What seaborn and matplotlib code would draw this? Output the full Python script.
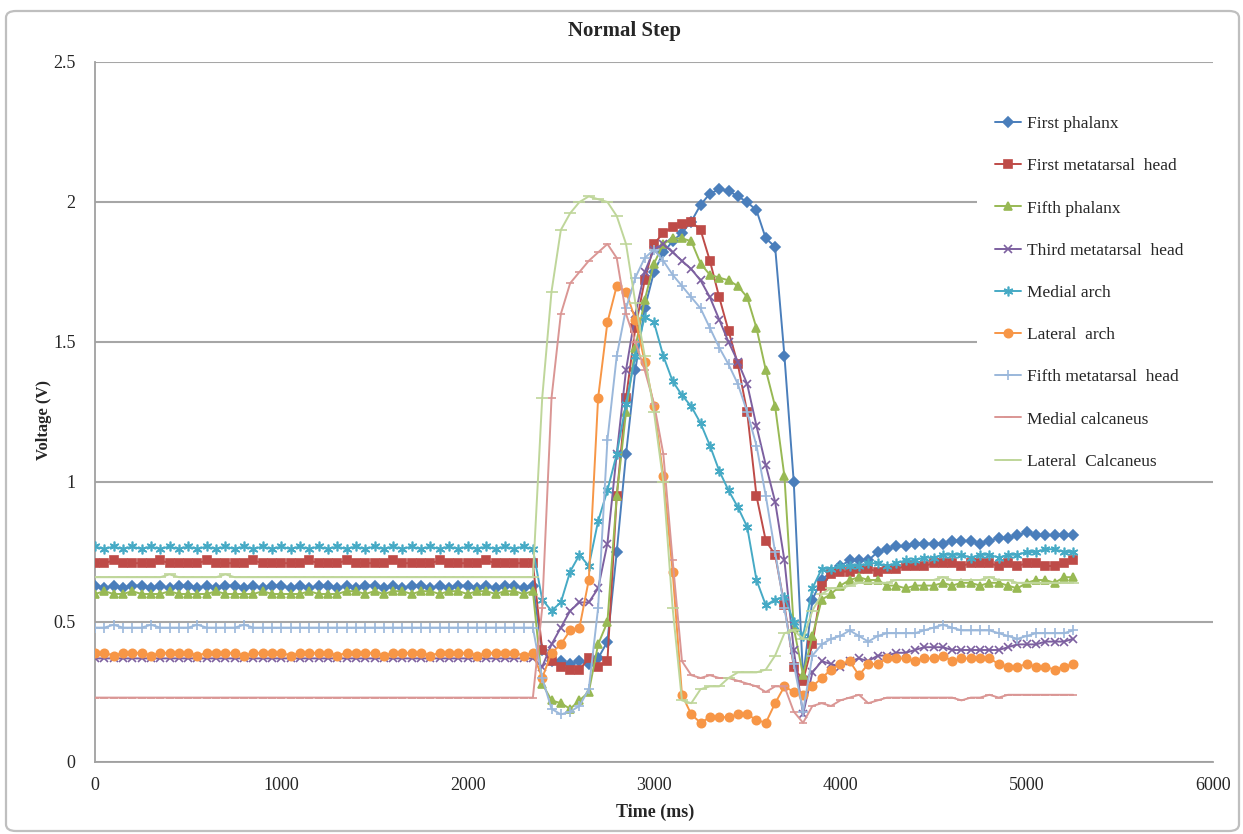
import matplotlib
matplotlib.use("Agg")
import matplotlib.pyplot as plt
import seaborn as sns
from matplotlib.patches import FancyBboxPatch, Rectangle

# ---------------- data ----------------
time_ms = list(range(0, 5300, 50))  # sample times, 0 .. 5250 ms

first_phalanx = [
    0.63, 0.62, 0.63, 0.62, 0.63, 0.63, 0.62, 0.63,
    0.62, 0.63, 0.63, 0.62, 0.63, 0.62, 0.63, 0.63,
    0.62, 0.63, 0.62, 0.63, 0.63, 0.62, 0.63, 0.62,
    0.63, 0.63, 0.62, 0.63, 0.62, 0.63, 0.63, 0.62,
    0.63, 0.62, 0.63, 0.63, 0.62, 0.63, 0.62, 0.63,
    0.63, 0.62, 0.63, 0.62, 0.63, 0.63, 0.62, 0.63,
    0.40, 0.36, 0.36, 0.35, 0.36, 0.35, 0.37, 0.43, 0.75, 1.10,
    1.40, 1.62, 1.75, 1.82, 1.86, 1.89, 1.93, 1.99, 2.03, 2.045,
    2.04, 2.02, 2.00, 1.97, 1.87, 1.84, 1.45, 1.00, 0.30, 0.58,
    0.65, 0.68, 0.70, 0.72, 0.72, 0.72, 0.75, 0.76, 0.77, 0.77,
    0.78, 0.78, 0.78, 0.78, 0.79, 0.79, 0.79, 0.78, 0.79, 0.80,
    0.80, 0.81, 0.82, 0.81, 0.81, 0.81, 0.81, 0.81,
]

first_metatarsal_head = [
    0.71, 0.71, 0.72, 0.71, 0.71, 0.71, 0.71, 0.72,
    0.71, 0.71, 0.71, 0.71, 0.72, 0.71, 0.71, 0.71,
    0.71, 0.72, 0.71, 0.71, 0.71, 0.71, 0.71, 0.72,
    0.71, 0.71, 0.71, 0.72, 0.71, 0.71, 0.71, 0.71,
    0.72, 0.71, 0.71, 0.71, 0.71, 0.72, 0.71, 0.71,
    0.71, 0.71, 0.72, 0.71, 0.71, 0.71, 0.71, 0.71,
    0.40, 0.36, 0.34, 0.33, 0.33, 0.37, 0.34, 0.36, 0.95, 1.30,
    1.55, 1.72, 1.85, 1.89, 1.91, 1.92, 1.93, 1.90, 1.79, 1.66,
    1.54, 1.42, 1.25, 0.95, 0.79, 0.74, 0.56, 0.34, 0.29, 0.42,
    0.63, 0.67, 0.68, 0.68, 0.69, 0.69, 0.68, 0.69, 0.69, 0.70,
    0.70, 0.70, 0.71, 0.71, 0.71, 0.70, 0.71, 0.71, 0.71, 0.70,
    0.71, 0.70, 0.71, 0.71, 0.70, 0.70, 0.71, 0.72,
]

fifth_phalanx = [
    0.60, 0.61, 0.60, 0.60, 0.61, 0.60, 0.60, 0.60,
    0.61, 0.60, 0.60, 0.60, 0.60, 0.61, 0.60, 0.60,
    0.60, 0.60, 0.61, 0.60, 0.60, 0.60, 0.60, 0.61,
    0.60, 0.60, 0.60, 0.61, 0.61, 0.60, 0.61, 0.60,
    0.61, 0.61, 0.60, 0.61, 0.61, 0.60, 0.61, 0.61,
    0.60, 0.61, 0.61, 0.60, 0.61, 0.61, 0.60, 0.61,
    0.28, 0.22, 0.21, 0.19, 0.22, 0.25, 0.42, 0.50, 0.95, 1.25,
    1.48, 1.65, 1.78, 1.85, 1.87, 1.87, 1.86, 1.78, 1.74, 1.73,
    1.72, 1.70, 1.66, 1.55, 1.40, 1.27, 1.02, 0.48, 0.31, 0.45,
    0.58, 0.60, 0.63, 0.65, 0.66, 0.65, 0.65, 0.63, 0.63, 0.62,
    0.63, 0.63, 0.63, 0.64, 0.63, 0.64, 0.64, 0.63, 0.64, 0.64,
    0.63, 0.62, 0.64, 0.65, 0.65, 0.64, 0.66, 0.66,
]

third_metatarsal_head = [
    0.37, 0.37, 0.37, 0.37, 0.37, 0.37, 0.37, 0.37,
    0.37, 0.37, 0.37, 0.37, 0.37, 0.37, 0.37, 0.37,
    0.37, 0.37, 0.37, 0.37, 0.37, 0.37, 0.37, 0.37,
    0.37, 0.37, 0.37, 0.37, 0.37, 0.37, 0.37, 0.37,
    0.37, 0.37, 0.37, 0.37, 0.37, 0.37, 0.37, 0.37,
    0.37, 0.37, 0.37, 0.37, 0.37, 0.37, 0.37, 0.37,
    0.34, 0.42, 0.48, 0.54, 0.57, 0.57, 0.62, 0.78, 1.10, 1.40,
    1.60, 1.75, 1.83, 1.85, 1.82, 1.79, 1.76, 1.72, 1.66, 1.58,
    1.50, 1.43, 1.35, 1.20, 1.06, 0.93, 0.72, 0.40, 0.17, 0.32,
    0.36, 0.35, 0.34, 0.36, 0.37, 0.36, 0.38, 0.38, 0.39, 0.39,
    0.40, 0.41, 0.41, 0.41, 0.40, 0.40, 0.40, 0.40, 0.40, 0.40,
    0.41, 0.42, 0.42, 0.42, 0.43, 0.43, 0.43, 0.44,
]

medial_arch = [
    0.77, 0.76, 0.77, 0.76, 0.77, 0.76, 0.77, 0.76,
    0.77, 0.76, 0.77, 0.76, 0.77, 0.76, 0.77, 0.76,
    0.77, 0.76, 0.77, 0.76, 0.77, 0.76, 0.77, 0.76,
    0.77, 0.76, 0.77, 0.76, 0.77, 0.76, 0.77, 0.76,
    0.77, 0.76, 0.77, 0.76, 0.77, 0.76, 0.77, 0.76,
    0.77, 0.76, 0.77, 0.76, 0.77, 0.76, 0.77, 0.76,
    0.58, 0.54, 0.57, 0.68, 0.74, 0.70, 0.86, 0.97, 1.10, 1.28,
    1.45, 1.59, 1.57, 1.45, 1.36, 1.31, 1.27, 1.21, 1.13, 1.04,
    0.97, 0.91, 0.84, 0.65, 0.56, 0.58, 0.59, 0.50, 0.45, 0.62,
    0.69, 0.69, 0.70, 0.70, 0.70, 0.71, 0.71, 0.70, 0.71, 0.72,
    0.72, 0.73, 0.73, 0.74, 0.74, 0.74, 0.73, 0.74, 0.74, 0.73,
    0.74, 0.74, 0.75, 0.75, 0.76, 0.76, 0.75, 0.75,
]

lateral_arch = [
    0.39, 0.39, 0.38, 0.39, 0.39, 0.39, 0.38, 0.39,
    0.39, 0.39, 0.39, 0.38, 0.39, 0.39, 0.39, 0.39,
    0.38, 0.39, 0.39, 0.39, 0.39, 0.38, 0.39, 0.39,
    0.39, 0.39, 0.38, 0.39, 0.39, 0.39, 0.39, 0.38,
    0.39, 0.39, 0.39, 0.39, 0.38, 0.39, 0.39, 0.39,
    0.39, 0.38, 0.39, 0.39, 0.39, 0.39, 0.38, 0.39,
    0.30, 0.39, 0.42, 0.47, 0.48, 0.65, 1.30, 1.57, 1.70, 1.68,
    1.58, 1.43, 1.27, 1.02, 0.68, 0.24, 0.17, 0.14, 0.16, 0.16,
    0.16, 0.17, 0.17, 0.15, 0.14, 0.21, 0.27, 0.25, 0.24, 0.27,
    0.30, 0.33, 0.35, 0.36, 0.31, 0.35, 0.35, 0.37, 0.37, 0.37,
    0.36, 0.37, 0.37, 0.38, 0.36, 0.37, 0.37, 0.37, 0.37, 0.35,
    0.34, 0.34, 0.35, 0.34, 0.34, 0.33, 0.34, 0.35,
]

fifth_metatarsal_head = [
    0.48, 0.48, 0.49, 0.48, 0.48, 0.48, 0.49, 0.48,
    0.48, 0.48, 0.48, 0.49, 0.48, 0.48, 0.48, 0.48,
    0.49, 0.48, 0.48, 0.48, 0.48, 0.48, 0.48, 0.48,
    0.48, 0.48, 0.48, 0.48, 0.48, 0.48, 0.48, 0.48,
    0.48, 0.48, 0.48, 0.48, 0.48, 0.48, 0.48, 0.48,
    0.48, 0.48, 0.48, 0.48, 0.48, 0.48, 0.48, 0.48,
    0.30, 0.19, 0.17, 0.18, 0.20, 0.26, 0.55, 1.15, 1.45, 1.62,
    1.73, 1.80, 1.83, 1.79, 1.74, 1.70, 1.66, 1.62, 1.55, 1.48,
    1.42, 1.35, 1.25, 1.13, 0.95, 0.75, 0.55, 0.35, 0.18, 0.38,
    0.42, 0.44, 0.45, 0.47, 0.45, 0.43, 0.45, 0.46, 0.46, 0.46,
    0.46, 0.47, 0.48, 0.49, 0.48, 0.47, 0.47, 0.47, 0.47, 0.46,
    0.45, 0.44, 0.45, 0.46, 0.46, 0.46, 0.46, 0.47,
]

medial_calcaneus = [
    0.23, 0.23, 0.23, 0.23, 0.23, 0.23, 0.23, 0.23,
    0.23, 0.23, 0.23, 0.23, 0.23, 0.23, 0.23, 0.23,
    0.23, 0.23, 0.23, 0.23, 0.23, 0.23, 0.23, 0.23,
    0.23, 0.23, 0.23, 0.23, 0.23, 0.23, 0.23, 0.23,
    0.23, 0.23, 0.23, 0.23, 0.23, 0.23, 0.23, 0.23,
    0.23, 0.23, 0.23, 0.23, 0.23, 0.23, 0.23, 0.23,
    0.55, 1.30, 1.60, 1.71, 1.75, 1.79, 1.82, 1.85, 1.80, 1.60,
    1.50, 1.40, 1.28, 1.10, 0.72, 0.36, 0.31, 0.30, 0.31, 0.30,
    0.30, 0.29, 0.28, 0.27, 0.25, 0.27, 0.27, 0.18, 0.14, 0.20,
    0.21, 0.20, 0.22, 0.23, 0.24, 0.21, 0.22, 0.23, 0.23, 0.23,
    0.23, 0.23, 0.23, 0.23, 0.23, 0.22, 0.23, 0.23, 0.24, 0.23,
    0.24, 0.24, 0.24, 0.24, 0.24, 0.24, 0.24, 0.24,
]

lateral_calcaneus = [
    0.66, 0.66, 0.66, 0.66, 0.66, 0.66, 0.66, 0.66,
    0.67, 0.66, 0.66, 0.66, 0.66, 0.66, 0.67, 0.66,
    0.66, 0.66, 0.66, 0.66, 0.66, 0.66, 0.66, 0.66,
    0.66, 0.66, 0.66, 0.66, 0.66, 0.66, 0.66, 0.66,
    0.66, 0.66, 0.66, 0.66, 0.66, 0.66, 0.66, 0.66,
    0.66, 0.66, 0.66, 0.66, 0.66, 0.66, 0.66, 0.66,
    1.30, 1.68, 1.90, 1.96, 2.00, 2.02, 2.01, 2.00, 1.95, 1.85,
    1.64, 1.45, 1.25, 1.00, 0.55, 0.22, 0.21, 0.26, 0.27, 0.27,
    0.30, 0.32, 0.32, 0.32, 0.33, 0.38, 0.46, 0.47, 0.44, 0.54,
    0.60, 0.62, 0.62, 0.63, 0.64, 0.64, 0.64, 0.64, 0.65, 0.65,
    0.65, 0.65, 0.65, 0.66, 0.65, 0.65, 0.65, 0.65, 0.66, 0.65,
    0.65, 0.64, 0.64, 0.64, 0.64, 0.64, 0.64, 0.64,
]

series_names = [
    "First phalanx", "First metatarsal  head", "Fifth phalanx",
    "Third metatarsal  head", "Medial arch", "Lateral  arch",
    "Fifth metatarsal  head", "Medial calcaneus", "Lateral  Calcaneus",
]
series_values = [
    first_phalanx, first_metatarsal_head, fifth_phalanx,
    third_metatarsal_head, medial_arch, lateral_arch,
    fifth_metatarsal_head, medial_calcaneus, lateral_calcaneus,
]
x_ticks = [0, 1000, 2000, 3000, 4000, 5000, 6000]
y_ticks = [0, 0.5, 1, 1.5, 2, 2.5]

# ---------------- styles ----------------
colors = ["#4A7EBB", "#BE4B48", "#98B954", "#7D60A0", "#46AAC5",
          "#F79646", "#9BB8DB", "#DA9694", "#BFD69A"]
markers = ["D", "s", "^", "x", (6, 2, 0), "o", "+", "_", "_"]
msizes = [5, 6, 6, 6, 7, 6, 7, 6, 8]

sns.set_theme(style="white")
plt.rcParams["font.family"] = ["Liberation Serif", "DejaVu Serif"]

fig = plt.figure(figsize=(12.43, 8.34), dpi=100)
ax = fig.add_axes([95 / 1243, 72 / 834, 1118 / 1243, 700 / 834])
ax.set_axisbelow(True)

for name, vals, c, m, ms in zip(series_names, series_values, colors, markers, msizes):
    sns.lineplot(x=time_ms, y=vals, ax=ax, color=c, marker=m, markersize=ms,
                 markeredgecolor=c, markerfacecolor=c, markeredgewidth=1.2,
                 linewidth=1.4, label=name, zorder=3)

ax.set_xlim(0, 6000)
ax.set_ylim(0, 2.5)
ax.set_xticks(x_ticks)
ax.set_yticks(y_ticks)
ax.set_xticklabels([str(v) for v in x_ticks], fontsize=13)
ax.set_yticklabels(["0", "0.5", "1", "1.5", "2", "2.5"], fontsize=13)
ax.tick_params(axis="x", length=0, pad=11)
ax.tick_params(axis="y", length=0, pad=14)
ax.set_xlabel("")
ax.set_ylabel("")

ax.yaxis.grid(True, color="#A6A6A6", linewidth=1.5)
ax.xaxis.grid(False)
for side in ["left", "bottom"]:
    ax.spines[side].set_visible(True)
    ax.spines[side].set_color("#A0A0A0")
    ax.spines[side].set_linewidth(1.3)
for side in ["top", "right"]:
    ax.spines[side].set_visible(False)

# white legend area covering gridlines (as in the reference)
ax.add_patch(Rectangle((0.789, 0.41), 0.211, 0.54, transform=ax.transAxes,
                       facecolor="white", edgecolor="none", zorder=1, clip_on=False))

leg = ax.legend(loc="upper left", bbox_to_anchor=(995 / 1243, 1 - 116 / 834),
                bbox_transform=fig.transFigure, frameon=False, fontsize=12.5,
                labelspacing=1.5, handlelength=1.5, handletextpad=0.35,
                borderaxespad=0, borderpad=0)
for h in leg.legend_handles:
    h.set_linewidth(1.4)

fig.text(625 / 1243, 1 - 31 / 834, "Normal Step", ha="center", va="center",
         fontsize=15, fontweight="bold")
fig.text(655 / 1243, 1 - 812 / 834, "Time (ms)", ha="center", va="center",
         fontsize=13, fontweight="bold")
fig.text(44 / 1243, 1 - 420 / 834, "Voltage (V)", ha="center", va="center",
         rotation=90, fontsize=12, fontweight="bold")

fig.patches.append(FancyBboxPatch((6 / 1243, 3 / 834), 1233 / 1243, 820 / 834,
                                  boxstyle="round,pad=0,rounding_size=0.008",
                                  transform=fig.transFigure, facecolor="none",
                                  edgecolor="#BFBFBF", linewidth=1.6))

fig.savefig("out.png", dpi=100)
